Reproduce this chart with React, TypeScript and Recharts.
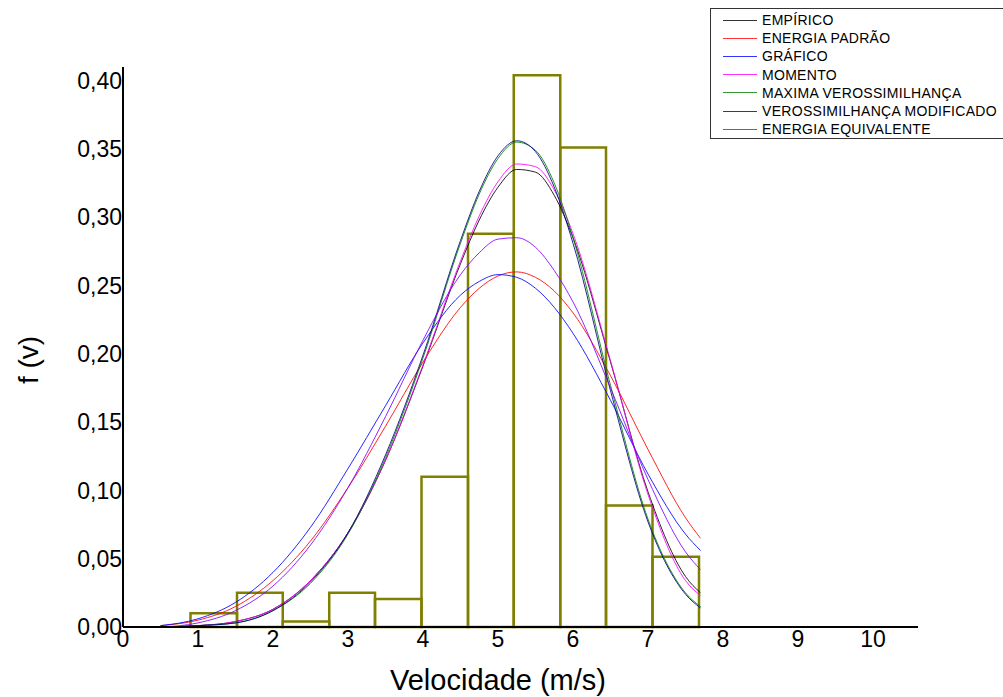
import { ComposedChart, Line, XAxis, YAxis, ReferenceArea, Legend } from 'recharts'

// velocidade (m/s) onde as curvas foram lidas
const xs = [0.5, 1, 1.5, 2, 2.5, 3, 3.5, 4, 4.5, 4.75, 5, 5.25, 5.5, 5.75, 6, 6.5, 7, 7.5, 7.7]

const empirico = [0.0, 0.001, 0.004, 0.013, 0.034, 0.069, 0.122, 0.191, 0.266, 0.298, 0.322, 0.335, 0.333, 0.316, 0.285, 0.194, 0.099, 0.037, 0.025]
const energiaPadrao = [0.001, 0.005, 0.015, 0.034, 0.063, 0.102, 0.147, 0.194, 0.234, 0.248, 0.257, 0.26, 0.256, 0.246, 0.23, 0.184, 0.13, 0.08, 0.065]
const grafico = [0.001, 0.006, 0.018, 0.04, 0.073, 0.116, 0.162, 0.208, 0.243, 0.253, 0.258, 0.256, 0.248, 0.234, 0.215, 0.166, 0.112, 0.068, 0.056]
const momento = [0.0, 0.001, 0.004, 0.013, 0.034, 0.069, 0.122, 0.192, 0.268, 0.301, 0.326, 0.339, 0.337, 0.32, 0.288, 0.195, 0.097, 0.034, 0.023]
const maxVeros = [0.0, 0.001, 0.003, 0.012, 0.032, 0.068, 0.124, 0.197, 0.281, 0.317, 0.343, 0.355, 0.349, 0.325, 0.285, 0.177, 0.079, 0.025, 0.015]
const verosMod = [0.0, 0.001, 0.003, 0.012, 0.033, 0.069, 0.126, 0.199, 0.283, 0.319, 0.345, 0.356, 0.348, 0.322, 0.281, 0.173, 0.077, 0.024, 0.014]
const energiaEq = [0.0, 0.003, 0.012, 0.03, 0.06, 0.102, 0.154, 0.21, 0.258, 0.274, 0.284, 0.285, 0.278, 0.261, 0.238, 0.175, 0.108, 0.055, 0.042]

// histograma: limites das classes e frequencias
const binEdges = [0.9, 1.52, 2.13, 2.75, 3.36, 3.98, 4.6, 5.21, 5.83, 6.44, 7.06, 7.68]
const binHeights = [0.01, 0.025, 0.004, 0.025, 0.0205, 0.11, 0.288, 0.404, 0.351, 0.089, 0.0515]

const xTicks = [0, 1, 2, 3, 4, 5, 6, 7, 8, 9, 10]
const yTicks = [0, 0.05, 0.1, 0.15, 0.2, 0.25, 0.3, 0.35, 0.4]

const SERIES = [
  { key: 'empirico', name: 'EMPÍRICO', color: '#000000', values: empirico },
  { key: 'energiaPadrao', name: 'ENERGIA PADRÃO', color: '#ff0000', values: energiaPadrao },
  { key: 'grafico', name: 'GRÁFICO', color: '#0000ff', values: grafico },
  { key: 'momento', name: 'MOMENTO', color: '#ff00ff', values: momento },
  { key: 'maxVeros', name: 'MAXIMA VEROSSIMILHANÇA', color: '#008000', values: maxVeros },
  { key: 'verosMod', name: 'VEROSSIMILHANÇA MODIFICADO', color: '#000080', values: verosMod },
  { key: 'energiaEq', name: 'ENERGIA EQUIVALENTE', color: '#8000ff', values: energiaEq },
]

const FONT = '"Liberation Sans", Arial, sans-serif'

const rows = xs.map((x, i) => {
  const r: Record<string, number> = { x }
  SERIES.forEach((s) => { r[s.key] = s.values[i] })
  return r
})

function LegendBox() {
  return (
    <div style={{ border: '1px solid #333', background: '#fff', paddingTop: 2, width: 320, fontFamily: FONT }}>
      {SERIES.map((s) => (
        <div key={s.key} style={{ display: 'flex', alignItems: 'center', height: 18.2 }}>
          <span style={{ marginLeft: 12, width: 34, height: 1, background: s.color, opacity: 0.8 }} />
          <span style={{ marginLeft: 5, fontSize: 14, letterSpacing: 0.3, color: '#000', whiteSpace: 'nowrap' }}>{s.name}</span>
        </div>
      ))}
    </div>
  )
}

export default function App() {
  return (
    <div style={{ position: 'absolute', left: 0, top: 0, width: 1003, height: 697, overflow: 'hidden', background: '#fff' }}>
      <ComposedChart width={1003} height={697} data={rows} margin={{ top: 67, right: 85, bottom: 10, left: 63 }}>
        <XAxis
          dataKey="x"
          type="number"
          domain={[0, 10.6]}
          ticks={xTicks}
          allowDataOverflow
          tickLine={false}
          tickSize={2}
          tickMargin={2}
          height={60}
          axisLine={{ stroke: '#000', strokeWidth: 2 }}
          tick={{ fill: '#000', fontSize: 23, fontFamily: FONT }}
          label={() => (
            <text x={498} y={690} textAnchor="middle" fontSize={29} fontFamily={FONT} fill="#000">
              Velocidade (m/s)
            </text>
          )}
        />
        <YAxis
          type="number"
          domain={[0, 0.41]}
          ticks={yTicks}
          allowDataOverflow
          width={60}
          tickLine={false}
          tickSize={0}
          tickMargin={1}
          axisLine={{ stroke: '#000', strokeWidth: 2 }}
          tick={{ fill: '#000', fontSize: 23, fontFamily: FONT }}
          tickFormatter={(v: number) => v.toFixed(2).replace('.', ',')}
          label={() => (
            <text x={38} y={360} transform="rotate(-90 38 360)" textAnchor="middle" fontSize={28} fontFamily={FONT} fill="#000">
              f (v)
            </text>
          )}
        />
        {SERIES.map((s) => (
          <Line
            key={s.key}
            dataKey={s.key}
            name={s.name}
            type="monotone"
            stroke={s.color}
            strokeWidth={1}
            strokeOpacity={0.85}
            dot={false}
            activeDot={false}
            isAnimationActive={false}
          />
        ))}
        {binHeights.map((h, i) => (
          <ReferenceArea
            key={i}
            x1={binEdges[i]}
            x2={binEdges[i + 1]}
            y1={0}
            y2={h}
            fill="none"
            fillOpacity={0}
            stroke="#808000"
            strokeWidth={2.5}
            strokeOpacity={1}
          />
        ))}
        <Legend
          layout="vertical"
          align="center"
          verticalAlign="middle"
          content={() => <LegendBox />}
          wrapperStyle={{ left: 710, top: 8, width: 320, height: 'auto' }}
        />
      </ComposedChart>
    </div>
  )
}
